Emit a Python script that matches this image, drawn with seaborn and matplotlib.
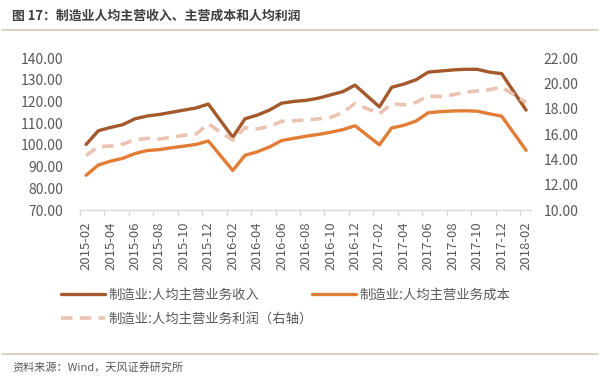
# plot.py
# 制造业人均主营收入、主营成本和人均利润 (2015-02 ~ 2018-02)

import numpy as np
import pandas as pd
import matplotlib
matplotlib.use("Agg")
import matplotlib.pyplot as plt
import seaborn as sns

# Data (January not reported, line joins Dec -> Feb)
months = [
    "2015-02", "2015-03", "2015-04", "2015-05", "2015-06", "2015-07", "2015-08",
    "2015-09", "2015-10", "2015-11", "2015-12",
    "2016-02", "2016-03", "2016-04", "2016-05", "2016-06", "2016-07", "2016-08",
    "2016-09", "2016-10", "2016-11", "2016-12",
    "2017-02", "2017-03", "2017-04", "2017-05", "2017-06", "2017-07", "2017-08",
    "2017-09", "2017-10", "2017-11", "2017-12",
    "2018-02",
]
revenue = [100.2, 106.5, 108.0, 109.3, 112.0, 113.3, 114.0, 115.0, 116.0, 117.0, 118.8,
           103.5, 112.0, 113.7, 116.0, 119.2, 120.0, 120.5, 121.5, 123.0, 124.5, 127.5,
           117.5, 126.5, 128.0, 130.0, 133.5, 134.0, 134.5, 134.8, 134.8, 133.5, 132.8,
           116.0]
cost = [86.0, 90.7, 92.5, 93.8, 96.0, 97.4, 97.8, 98.7, 99.4, 100.2, 101.8,
        88.2, 95.2, 96.8, 99.0, 102.0, 103.0, 104.0, 104.8, 105.8, 107.0, 108.8,
        100.0, 107.8, 109.0, 111.0, 114.8, 115.3, 115.6, 115.7, 115.5, 114.3, 113.2,
        97.5]
profit = [14.3, 15.0, 15.05, 15.2, 15.55, 15.65, 15.6, 15.75, 15.9, 16.0, 16.8,
          15.5, 16.5, 16.4, 16.6, 17.0, 17.05, 17.1, 17.2, 17.3, 17.7, 18.4,
          17.6, 18.4, 18.3, 18.5, 19.0, 18.95, 19.1, 19.3, 19.4, 19.5, 19.7,
          18.5]
tick_labels = ["2015-02", "2015-04", "2015-06", "2015-08", "2015-10", "2015-12",
               "2016-02", "2016-04", "2016-06", "2016-08", "2016-10", "2016-12",
               "2017-02", "2017-04", "2017-06", "2017-08", "2017-10", "2017-12",
               "2018-02"]

label_rev = "制造业:人均主营业务收入"
label_cost = "制造业:人均主营业务成本"
label_profit = "制造业:人均主营业务利润（右轴）"

# month position on a continuous monthly axis
def month_pos(s):
    y, m = s.split("-")
    return (int(y) - 2015) * 12 + int(m) - 2

df = pd.DataFrame({"month": months, "revenue": revenue, "cost": cost, "profit": profit})
df["pos"] = df["month"].map(month_pos)

sns.set_theme(style="white")
plt.rcParams["font.family"] = ["Noto Sans CJK SC", "DejaVu Sans"]
plt.rcParams["axes.unicode_minus"] = False

C_REV = "#A3592B"
C_COST = "#E27D36"
C_PROF = "#EBC3B2"
TXT = "#595959"

fig = plt.figure(figsize=(6.0, 3.8), dpi=100)
ax = fig.add_axes([80 / 600, 1 - 210 / 380, 451 / 600, 152 / 380])
ax2 = ax.twinx()

sns.lineplot(data=df, x="pos", y="revenue", ax=ax, color=C_REV, lw=2.4, label=label_rev, legend=False)
sns.lineplot(data=df, x="pos", y="cost", ax=ax, color=C_COST, lw=2.4, label=label_cost, legend=False)
sns.lineplot(data=df, x="pos", y="profit", ax=ax2, color=C_PROF, lw=2.6, label=label_profit,
             legend=False, dashes=False)
ax2.lines[0].set_dashes((3.2, 2.0))

ax.set_xlim(-0.5, 36.4)
ax.set_ylim(70, 140)
ax2.set_ylim(10, 22)
ax.set_yticks(np.arange(70, 141, 10))
ax2.set_yticks(np.arange(10, 23, 2))
ax.set_yticklabels([f"{v:.2f}" for v in np.arange(70, 141, 10)])
ax2.set_yticklabels([f"{v:.2f}" for v in np.arange(10, 23, 2)])

ax.set_xticks([month_pos(t) for t in tick_labels])
ax.set_xticklabels(tick_labels, rotation=90)
ax.set_xticks(np.arange(-0.5, 36, 2), minor=True)

ax.set_xlabel("")
ax.set_ylabel("")
ax2.set_ylabel("")

for a in (ax, ax2):
    for side in ("top", "left", "right", "bottom"):
        a.spines[side].set_visible(False)
    a.grid(False)
ax.spines["bottom"].set_visible(True)
ax.spines["bottom"].set_color("#D9D9D9")
ax.spines["bottom"].set_linewidth(1.0)

ax.tick_params(axis="y", length=0, pad=12, labelsize=10, labelcolor=TXT)
ax2.tick_params(axis="y", length=0, pad=9, labelsize=10, labelcolor=TXT)
ax.tick_params(axis="x", which="major", length=0, pad=8, labelsize=9.5, labelcolor=TXT)
ax.tick_params(axis="x", which="minor", length=4, width=1, color="#D9D9D9", bottom=True)

# Legend
handles = [ax.lines[0], ax2.lines[0], ax.lines[1]]
labels = [label_rev, label_profit, label_cost]
fig.legend(handles, labels, ncol=2, loc="upper left", bbox_to_anchor=(54 / 600, 1 - 281 / 380),
           frameon=False, fontsize=9.6, handlelength=3.3, handletextpad=0.25,
           columnspacing=0.0, labelspacing=0.75, borderpad=0, labelcolor=TXT)

# Title, rules, source
fig.text(12 / 600, 1 - 16 / 380, "图 17：制造业人均主营收入、主营成本和人均利润", fontsize=9.3,
         fontweight="bold", color="#3F3F3F", va="center", ha="left")
fig.add_artist(plt.Line2D([2 / 600, 598 / 600], [1 - 30 / 380, 1 - 30 / 380], color="#D8CCB6", lw=1.3))
fig.add_artist(plt.Line2D([2 / 600, 598 / 600], [1 - 354 / 380, 1 - 354 / 380], color="#D8CCB6", lw=1.3))
fig.text(12 / 600, 1 - 367 / 380, "资料来源：Wind，天风证券研究所", fontsize=8, color=TXT,
         va="center", ha="left")

fig.savefig("out.png", dpi=100)
plt.close(fig)
